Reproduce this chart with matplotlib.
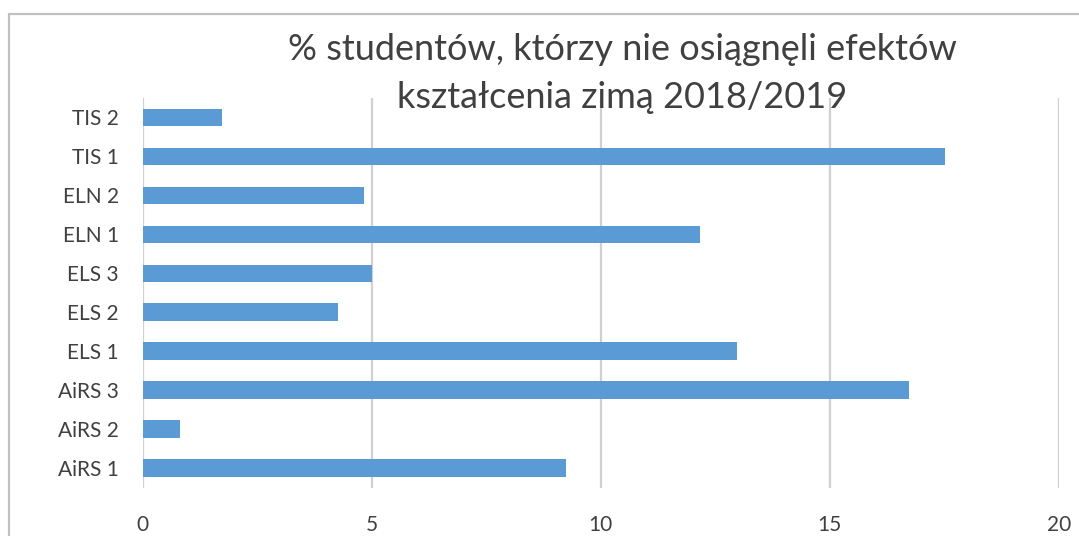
import matplotlib
matplotlib.use("Agg")
import matplotlib.pyplot as plt
from matplotlib.patches import Rectangle

categories = ["AiRS 1", "AiRS 2", "AiRS 3", "ELS 1", "ELS 2", "ELS 3",
              "ELN 1", "ELN 2", "TIS 1", "TIS 2"]
values = [9.25, 0.82, 16.74, 12.98, 4.27, 5.0, 12.17, 4.84, 17.52, 1.73]
xticks = [0, 5, 10, 15, 20]
title_lines = ["% studentów, którzy nie osiągnęli efektów",
               "kształcenia zimą 2018/2019"]

FONT = ["Lato", "DejaVu Sans"]
TXT = "#404040"
W, H = 1079, 536

fig = plt.figure(figsize=(W / 100, H / 100), dpi=100)
fig.patch.set_facecolor("white")

# chart area border (extends past the right/bottom edges)
fig.patches.append(Rectangle((9 / W, -0.2), 1.3, 1 - 14 / H + 0.2,
                             transform=fig.transFigure, fill=False,
                             edgecolor="#c0c0c0", linewidth=1.6, zorder=0))

ax = fig.add_axes([142.5 / W, 1 - 487.7 / H, 916.2 / W, 389.7 / H])
y = range(len(categories))
ax.barh(y, values, height=0.4545, color="#5b9bd5", zorder=3)

ax.set_xlim(0, 20)
ax.set_ylim(-0.5, len(categories) - 0.5)
ax.set_xticks(xticks)
ax.set_xticklabels([str(t) for t in xticks])
ax.set_yticks(list(y))
ax.set_yticklabels(categories)

ax.grid(axis="x", color="#d0d0d0", linewidth=1.6, zorder=0)
ax.set_axisbelow(True)
for s in ax.spines.values():
    s.set_visible(False)
ax.tick_params(axis="both", length=0, colors=TXT, labelsize=15)
ax.tick_params(axis="x", pad=20)
ax.tick_params(axis="y", pad=17)
for lab in ax.get_xticklabels() + ax.get_yticklabels():
    lab.set_family(FONT)
    lab.set_color(TXT)

fig.text(0.577, 1 - 60 / H, title_lines[0], ha="center", va="baseline",
         fontsize=26, color=TXT, family=FONT)
fig.text(0.577, 1 - 108 / H, title_lines[1], ha="center", va="baseline",
         fontsize=26, color=TXT, family=FONT)

fig.savefig("out.png", dpi=100, facecolor="white")
